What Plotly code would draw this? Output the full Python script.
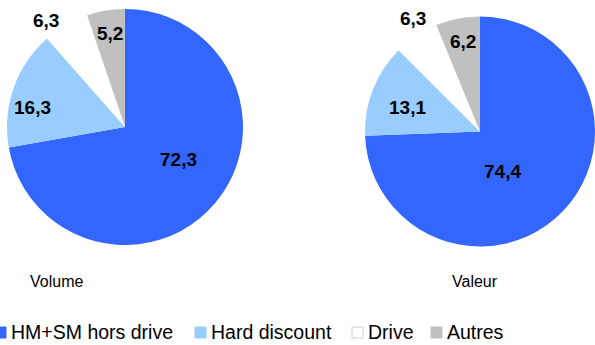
import plotly.graph_objects as go

W, H = 595, 345

categories = ["HM+SM hors drive", "Hard discount", "Drive", "Autres"]
volume = [72.3, 16.3, 6.3, 5.2]
valeur = [74.4, 13.1, 6.3, 6.2]
colors = ["#3366FF", "#99CCFF", "#FFFFFF", "#C0C0C0"]

# where the numbers sit on the picture, in pixels
vol_label_px = [(178, 159), (32, 108), (46, 20), (110, 34)]
val_label_px = [(502, 171), (407, 108), (413, 18), (463, 41)]
# legend entries: marker left edge, in pixels
legend_x_px = [-5, 195, 352, 431]


def fmt(v):
    return f"{v:.1f}".replace(".", ",")


def px_x(x):
    return x / W


def px_y(y):
    return 1 - y / H


fig = go.Figure()

fig.add_trace(go.Pie(
    labels=categories, values=volume, sort=False, direction="clockwise",
    rotation=0, marker=dict(colors=colors, line=dict(width=0)),
    textinfo="none", hoverinfo="label+value", showlegend=False,
    domain=dict(x=[px_x(7), px_x(243)], y=[px_y(245), px_y(9)]),
))
fig.add_trace(go.Pie(
    labels=categories, values=valeur, sort=False, direction="clockwise",
    rotation=0, marker=dict(colors=colors, line=dict(width=0)),
    textinfo="none", hoverinfo="label+value", showlegend=False,
    domain=dict(x=[px_x(365), 1.0], y=[px_y(248), px_y(15)]),
))

for vals, pos in ((volume, vol_label_px), (valeur, val_label_px)):
    for v, (x, y) in zip(vals, pos):
        fig.add_annotation(
            x=px_x(x), y=px_y(y), xref="paper", yref="paper",
            xanchor="center", yanchor="middle",
            text=f"<b>{fmt(v)}</b>", showarrow=False,
            font=dict(size=19, color="black"),
        )

for txt, x in (("Volume", 56), ("Valeur", 475)):
    fig.add_annotation(x=px_x(x), y=px_y(281), xref="paper", yref="paper",
                       xanchor="center", yanchor="middle",
                       text=txt, showarrow=False, font=dict(size=16))

# legend drawn by hand so it keeps the tight spacing of the original
for name, col, x0 in zip(categories, colors, legend_x_px):
    fig.add_shape(
        type="rect", xref="paper", yref="paper",
        x0=px_x(x0), x1=px_x(x0 + 11), y0=px_y(338), y1=px_y(327),
        fillcolor=col, line=dict(color="#D0D0D0" if col == "#FFFFFF" else col, width=1),
    )
    fig.add_annotation(
        x=px_x(x0 + 14), y=px_y(332), xref="paper", yref="paper",
        xanchor="left", yanchor="middle", text=name, showarrow=False,
        font=dict(size=19.5),
    )

fig.update_layout(
    width=W, height=H,
    margin=dict(l=0, r=0, t=0, b=0),
    paper_bgcolor="white",
    font=dict(family="Liberation Sans, Arial, sans-serif", color="black"),
)

# drop the browser's default body margin so the figure fills the window
fig.write_html("out.html", config={"displayModeBar": False},
               post_script="document.body.style.margin = '0';")
